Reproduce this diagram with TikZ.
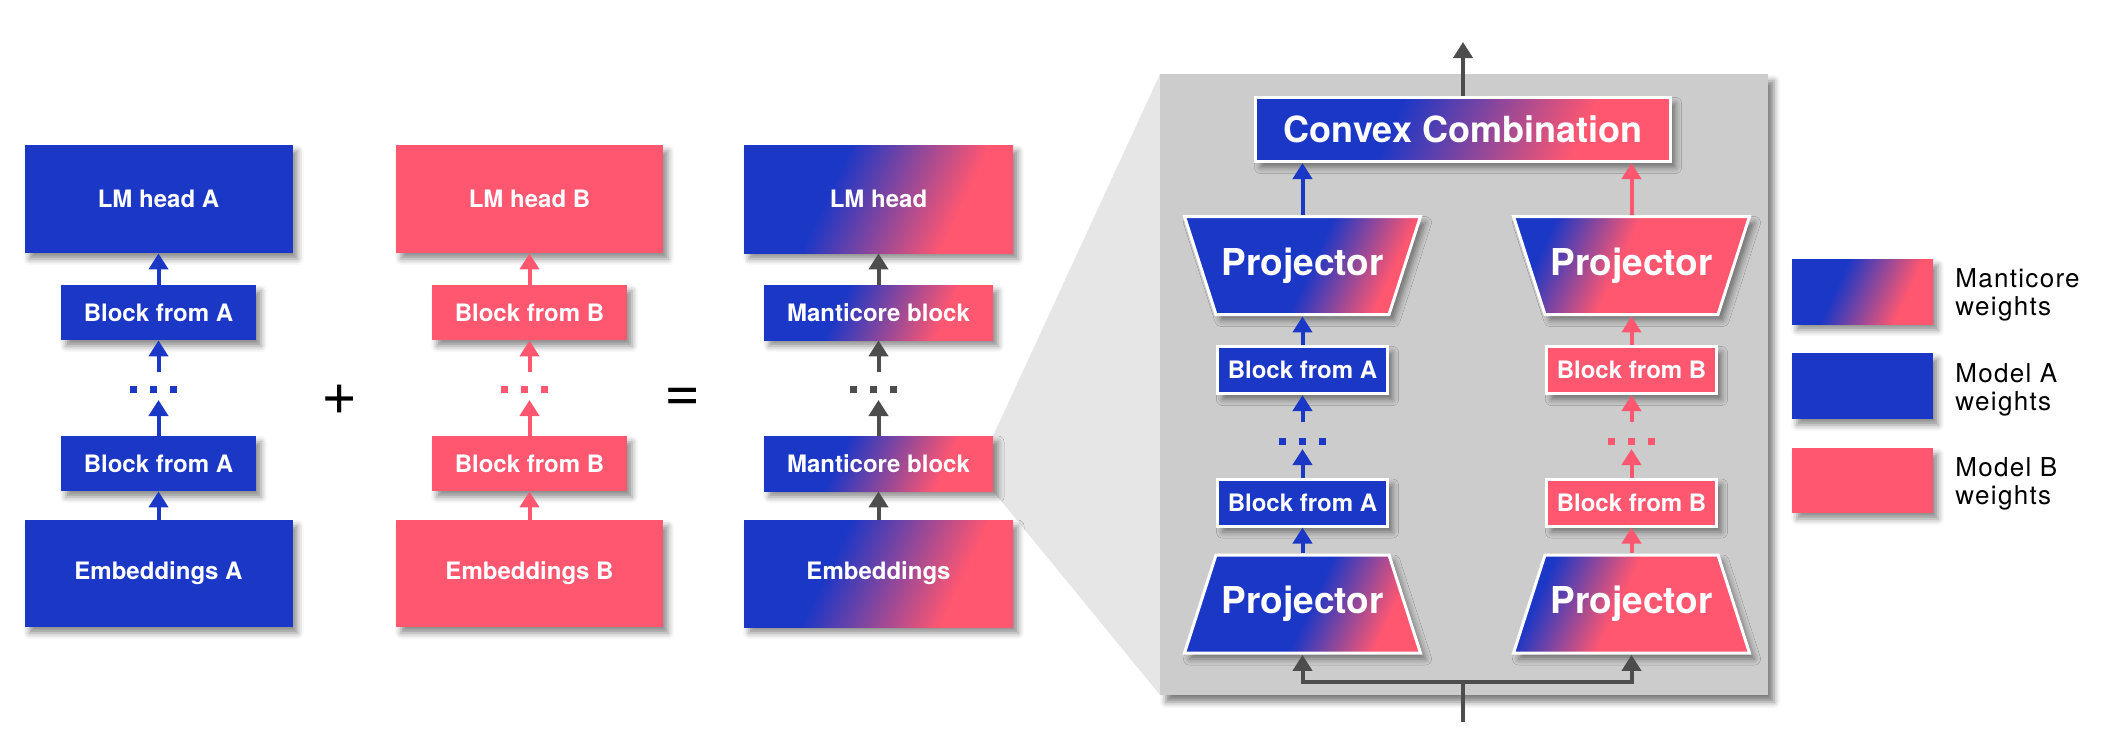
\documentclass[tikz,border=0pt]{standalone}
\usepackage{fontspec}
\setmainfont{TeX Gyre Heros}
\newfontfamily\legfont[LetterSpace=5]{TeX Gyre Heros}
\usetikzlibrary{shadows.blur,arrows.meta}

\definecolor{mblue}{RGB}{27,55,198}
\definecolor{mpink}{RGB}{255,87,112}
\definecolor{agray}{RGB}{77,77,77}
\definecolor{panelgray}{RGB}{204,204,204}
\definecolor{funnelgray}{RGB}{230,230,230}

\pgfdeclarehorizontalshading{manti}{100bp}{color(0bp)=(mblue); color(39bp)=(mblue); color(68bp)=(mpink); color(100bp)=(mpink)}
\pgfdeclarehorizontalshading{projA}{100bp}{color(0bp)=(mblue); color(52bp)=(mblue); color(72bp)=(mpink); color(100bp)=(mpink)}
\pgfdeclarehorizontalshading{projB}{100bp}{color(0bp)=(mblue); color(27bp)=(mblue); color(47bp)=(mpink); color(100bp)=(mpink)}

\tikzset{
  shad/.style={blur shadow={shadow xshift=2.5pt, shadow yshift=-3pt, shadow blur radius=3pt, shadow opacity=45}},
  box/.style={rectangle, inner sep=0pt, text=white, font=\bfseries\fontsize{12}{14}\selectfont, shad},
  boxA/.style={box, fill=mblue},
  boxB/.style={box, fill=mpink},
  boxM/.style={box, shade, shading=manti, shading angle=-25},
  inpanel/.style={draw=white, line width=1.5pt},
  pblk/.style={inpanel, minimum width=85pt, minimum height=23.5pt},
  projshape/.style={draw=white, line width=1.5pt, shad, shade, shading angle=-25},
  projtext/.style={rectangle, inner sep=0pt, minimum width=118pt, minimum height=50.5pt,
    text=white, font=\bfseries\fontsize{18.5}{20}\selectfont},
  arrbase/.style={line width=2pt, -{Triangle[width=9.5pt,length=8pt]}},
  arrA/.style={arrbase, draw=mblue},
  arrB/.style={arrbase, draw=mpink},
  arrG/.style={arrbase, draw=agray},
  legtext/.style={anchor=west, align=left, inner sep=0pt, font=\legfont\fontsize{13}{14}\selectfont, text=black},
  opsign/.style={inner sep=0pt, font=\fontsize{31}{31}\selectfont, text=black}
}

\newcommand\dotrow[3]{%
  \fill[#3] (#1-23.5,#2-3.5) rectangle +(7,7);
  \fill[#3] (#1-3.5,#2-3.5) rectangle +(7,7);
  \fill[#3] (#1+16.5,#2-3.5) rectangle +(7,7);}
% projector wide at top: centre x, centre y, shading
\newcommand\projdown[3]{%
  \path[projshape, shading=#3] (#1-118,#2-49) -- (#1+118,#2-49) -- (#1+86.5,#2+49) -- (#1-86.5,#2+49) -- cycle;}
% projector wide at bottom
\newcommand\projup[3]{%
  \path[projshape, shading=#3] (#1-86.5,#2-49) -- (#1+86.5,#2-49) -- (#1+118,#2+49) -- (#1-118,#2+49) -- cycle;}

\begin{document}
\begin{tikzpicture}[x=0.5pt,y=-0.5pt]
\useasboundingbox (0,0) rectangle (2122,729);

% funnel
\fill[funnelgray] (1160,74) -- (993,436) -- (993,491) -- (1160,695) -- cycle;

% ---------- column A ----------
\node[boxA, minimum width=134pt, minimum height=54pt] (headA) at (158.5,199) {LM head A};
\node[boxA, minimum width=97.5pt, minimum height=27.5pt] (blkA2) at (158.5,312.5) {Block from A};
\node[boxA, minimum width=97.5pt, minimum height=27.5pt] (blkA1) at (158.5,463.5) {Block from A};
\node[boxA, minimum width=134pt, minimum height=53.5pt] (embA) at (158.5,573.5) {Embeddings A};
\coordinate (dA1) at (158.5,400);
\coordinate (dA2) at (158.5,372);
\draw[arrA] (embA.north) -- (blkA1.south);
\draw[arrA] (blkA1.north) -- (dA1);
\draw[arrA] (dA2) -- (blkA2.south);
\draw[arrA] (blkA2.north) -- (headA.south);
\dotrow{153.5}{389}{mblue}

% ---------- column B ----------
\node[boxB, minimum width=133.5pt, minimum height=54pt] (headB) at (529.5,199) {LM head B};
\node[boxB, minimum width=97.5pt, minimum height=27.5pt] (blkB2) at (529.5,312.5) {Block from B};
\node[boxB, minimum width=97.5pt, minimum height=27.5pt] (blkB1) at (529.5,463.5) {Block from B};
\node[boxB, minimum width=133.5pt, minimum height=53.5pt] (embB) at (529.5,573.5) {Embeddings B};
\coordinate (dB1) at (529.5,400);
\coordinate (dB2) at (529.5,372);
\draw[arrB] (embB.north) -- (blkB1.south);
\draw[arrB] (blkB1.north) -- (dB1);
\draw[arrB] (dB2) -- (blkB2.south);
\draw[arrB] (blkB2.north) -- (headB.south);
\dotrow{524}{389}{mpink}

% ---------- column C ----------
\node[boxM, minimum width=134.5pt, minimum height=54pt] (headM) at (878.5,199) {LM head};
\node[boxM, minimum width=114.5pt, minimum height=27.5pt] (blkM2) at (878.5,312.5) {Manticore block};
\node[boxM, minimum width=114.5pt, minimum height=27.5pt] (blkM1) at (878.5,463.5) {Manticore block};
\node[boxM, minimum width=134.5pt, minimum height=53.5pt] (embM) at (878.5,573.5) {Embeddings};
\coordinate (dM1) at (878.5,400);
\coordinate (dM2) at (878.5,372);
\draw[arrG] (embM.north) -- (blkM1.south);
\draw[arrG] (blkM1.north) -- (dM1);
\draw[arrG] (dM2) -- (blkM2.south);
\draw[arrG] (blkM2.north) -- (headM.south);
\dotrow{873}{389}{agray}

% operators
\node[opsign] (plus) at (340,400) {+};
\node[opsign] (equal) at (683,400) {=};

% ---------- panel ----------
\node[fill=panelgray, minimum width=304pt, minimum height=310.5pt, inner sep=0pt,
  blur shadow={shadow xshift=3pt, shadow yshift=-3.5pt, shadow blur radius=3pt, shadow opacity=50}] (panel) at (1464,384.5) {};

\node[boxM, inpanel, minimum width=207.5pt, minimum height=32pt,
  font=\bfseries\fontsize{18}{20}\selectfont] (conv) at (1463,129.5) {Convex Combination};
\coordinate (out) at (1463,42);
\draw[arrG] (conv.north) -- (out);

% left (A) branch
\projdown{1302.5}{265.5}{projA}
\node[projtext] (pA1) at (1302.5,265.5) {Projector};
\node[boxA, pblk] (bA2) at (1302.5,370) {Block from A};
\node[boxA, pblk] (bA1) at (1302.5,502.5) {Block from A};
\projup{1302.5}{604}{projA}
\node[projtext] (pA0) at (1302.5,604) {Projector};
\coordinate (cA1) at (1302.5,449);
\coordinate (cA2) at (1302.5,422);
\dotrow{1302.5}{441}{mblue}
\draw[arrA] (pA1.north) -- (conv.south -| pA1.north);
\draw[arrA] (bA2.north) -- (pA1.south);
\draw[arrA] (cA2) -- (bA2.south);
\draw[arrA] (bA1.north) -- (cA1);
\draw[arrA] (pA0.north) -- (bA1.south);

% right (B) branch
\projdown{1631.5}{265.5}{projB}
\node[projtext] (pB1) at (1631.5,265.5) {Projector};
\node[boxB, pblk] (bB2) at (1631.5,370) {Block from B};
\node[boxB, pblk] (bB1) at (1631.5,502.5) {Block from B};
\projup{1631.5}{604}{projB}
\node[projtext] (pB0) at (1631.5,604) {Projector};
\coordinate (cB1) at (1631.5,449);
\coordinate (cB2) at (1631.5,422);
\dotrow{1631.5}{441}{mpink}
\draw[arrB] (pB1.north) -- (conv.south -| pB1.north);
\draw[arrB] (bB2.north) -- (pB1.south);
\draw[arrB] (cB2) -- (bB2.south);
\draw[arrB] (bB1.north) -- (cB1);
\draw[arrB] (pB0.north) -- (bB1.south);

% input split
\coordinate (inp) at (1463,722);
\coordinate (split) at (1463,682);
\draw[line width=2pt, agray] (inp) -- (split);
\draw[arrG] (split) -| (pA0.south);
\draw[arrG] (split) -| (pB0.south);

% ---------- legend ----------
\node[boxM, minimum width=70.5pt, minimum height=32.5pt] (lgM) at (1862.5,291.5) {};
\node[boxA, minimum width=70.5pt, minimum height=33pt] (lgA) at (1862.5,386) {};
\node[boxB, minimum width=70.5pt, minimum height=32.5pt] (lgB) at (1862.5,480.5) {};
\node[legtext] (ltM) at (1955,295) {Manticore\\weights};
\node[legtext] (ltA) at (1955,389.5) {Model A\\weights};
\node[legtext] (ltB) at (1955,484) {Model B\\weights};
\end{tikzpicture}
\end{document}
